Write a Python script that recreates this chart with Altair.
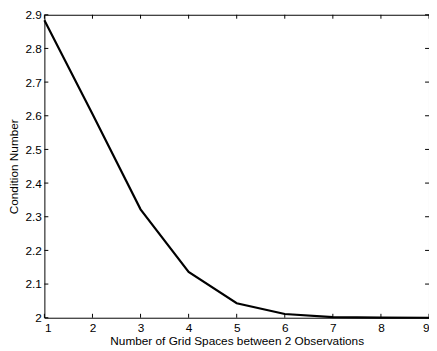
import altair as alt
import pandas as pd

spaces = [1, 2, 3, 4, 5, 6, 7, 8, 9]
cond = [2.884, 2.605, 2.322, 2.136, 2.043, 2.011, 2.002, 2.0005, 2.0]
x_ticks = [1, 2, 3, 4, 5, 6, 7, 8, 9]
y_ticks = [2.0, 2.1, 2.2, 2.3, 2.4, 2.5, 2.6, 2.7, 2.8, 2.9]

W, H = 391, 308
FONT = "Liberation Sans"
TL = 4

df = pd.DataFrame({"x": spaces, "y": cond})
xt = pd.DataFrame({"x": x_ticks})
yt = pd.DataFrame({"y": y_ticks})

xscale = alt.Scale(domain=[1, 9], nice=False, zero=False)
yscale = alt.Scale(domain=[2.0, 2.9], nice=False, zero=False)

xaxis = alt.Axis(values=x_ticks, ticks=False, domain=False, grid=False,
                 title="Number of Grid Spaces between 2 Observations",
                 labelPadding=5, titlePadding=2, format="d", labelOverlap=False)
yaxis = alt.Axis(values=y_ticks, ticks=False, domain=False, grid=False,
                 title="Condition Number", format=".2~f",
                 labelPadding=3, titlePadding=5, labelOverlap=False)

X = alt.X("x:Q", scale=xscale, axis=xaxis)
Y = alt.Y("y:Q", scale=yscale, axis=yaxis)

line = alt.Chart(df).mark_line(color="black", strokeWidth=2.2).encode(x=X, y=Y)

xb = alt.Chart(xt).mark_rule(color="black", strokeWidth=1).encode(
    x=X, y=alt.value(H), y2=alt.value(H - TL))
xtop = alt.Chart(xt).mark_rule(color="black", strokeWidth=1).encode(
    x=X, y=alt.value(0), y2=alt.value(TL))
yl = alt.Chart(yt).mark_rule(color="black", strokeWidth=1).encode(
    y=Y, x=alt.value(0), x2=alt.value(TL))
yr = alt.Chart(yt).mark_rule(color="black", strokeWidth=1).encode(
    y=Y, x=alt.value(W), x2=alt.value(W - TL))

chart = alt.layer(line, xb, xtop, yl, yr).properties(
    width=W, height=H,
    autosize=alt.AutoSizeParams(type="none"),
    padding={"left": 37, "top": 4, "right": 0, "bottom": 35},
).configure_view(stroke="black", strokeWidth=1).configure_axis(
    labelFont=FONT, titleFont=FONT, labelFontSize=12, titleFontSize=12,
    labelColor="black", titleColor="black", titleFontWeight="normal",
)

chart.save("out.html", embed_options={"renderer": "svg", "actions": False})
